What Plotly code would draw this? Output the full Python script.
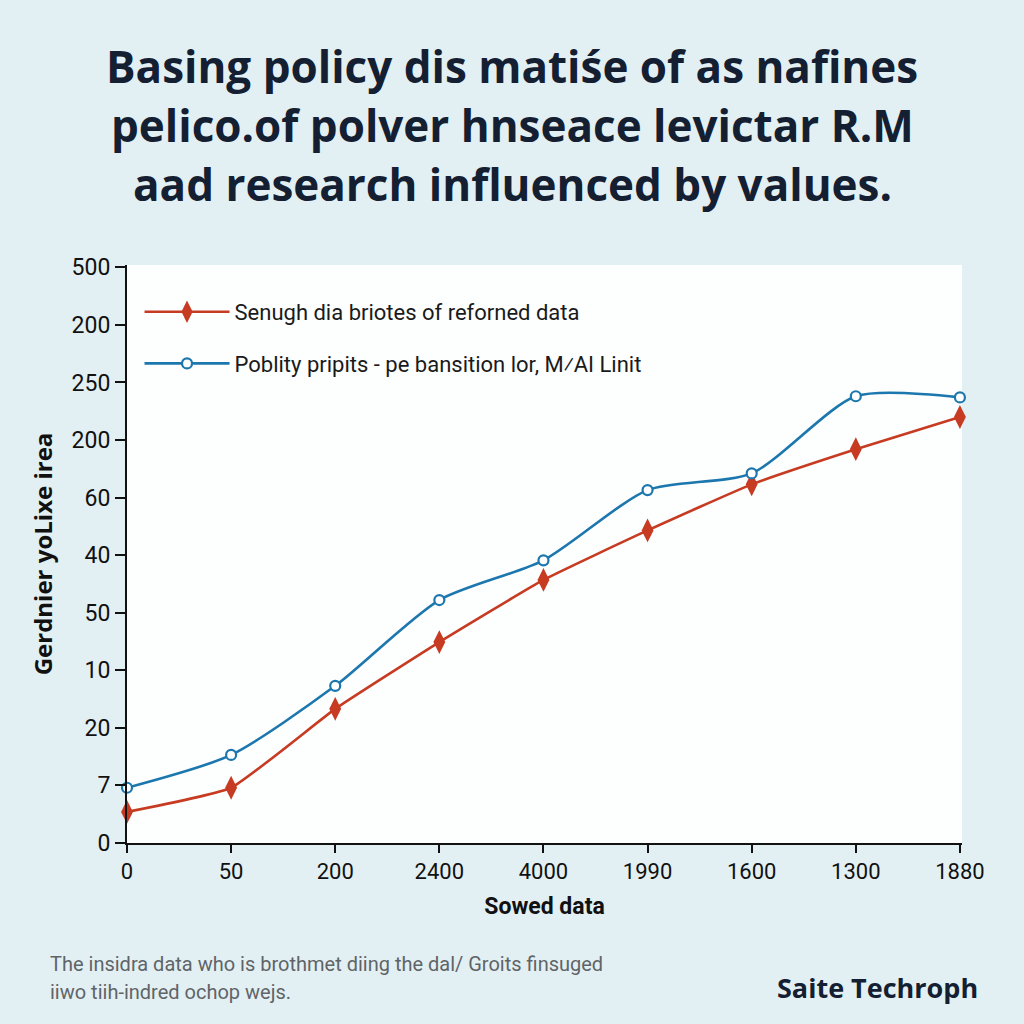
import plotly.graph_objects as go

# ---- data ----
x_labels = ["0", "50", "200", "2400", "4000", "1990", "1600", "1300", "1880"]
y_labels = ["0", "7", "20", "10", "50", "40", "60", "200", "250", "200", "500"]
red_name = "Senugh dia briotes of reforned data"
blue_name = "Poblity pripits - pe bansition lor, M\u2044AI Linit"
red_values = [0.54, 0.96, 2.33, 3.49, 4.57, 5.43, 6.23, 6.84, 7.40]
blue_values = [0.96, 1.53, 2.73, 4.22, 4.91, 6.13, 6.42, 7.76, 7.74]

title_lines = ["Basing policy dis matiśe of as nafines",
               "pelico.of polver hnseace levictar R.M",
               "aad research influenced by values."]
x_title = "Sowed data"
y_title = "Gerdnier yoLixe irea"
foot_lines = ["The insidra data who is brothmet diing the dal/ Groits finsuged",
              "iiwo tiih-indred ochop wejs."]
brand = "Saite Techroph"

RED = "#C63B22"
BLUE = "#1B77AE"
NAVY = "#142032"

xs = list(range(len(x_labels)))

fig = go.Figure()
fig.add_trace(go.Scatter(
    x=xs, y=red_values, name=red_name, mode="lines+markers", legendgroup="a",
    line=dict(color=RED, width=2.6, shape="spline", smoothing=0.4),
    marker=dict(symbol="diamond-tall", size=17, color=RED),
    cliponaxis=False,
))
fig.add_trace(go.Scatter(
    x=xs, y=blue_values, name=blue_name, mode="lines+markers", legendgroup="b",
    line=dict(color=BLUE, width=2.6, shape="spline", smoothing=0.7),
    marker=dict(symbol="circle", size=10, color="white", line=dict(color=BLUE, width=2.2)),
    cliponaxis=False,
))

fig.update_layout(
    width=1024, height=1024,
    margin=dict(l=127, r=62, t=265, b=181),
    paper_bgcolor="#E3F0F3",
    plot_bgcolor="#FDFEFE",
    font=dict(family="Open Sans, Noto Sans, sans-serif", color="#1a1a1a"),
    showlegend=True,
    legend=dict(x=0.015, y=0.955, xanchor="left", yanchor="top",
                bgcolor="rgba(0,0,0,0)", font=dict(size=22, family="Roboto, sans-serif", color="#1a1a1a"),
                itemwidth=85, tracegroupgap=20),
)

fig.update_xaxes(
    range=[0, 8.02], tickmode="array", tickvals=xs, ticktext=x_labels,
    showgrid=False, zeroline=False, showline=True, linecolor="#111", linewidth=2,
    ticks="outside", ticklen=8, tickwidth=2, tickcolor="#111",
    tickfont=dict(size=22, family="Roboto, sans-serif", color="#111"),
    title=dict(text="<b>" + x_title + "</b>", font=dict(size=23, family="Roboto, sans-serif", color="#111"), standoff=14),
)
fig.update_yaxes(
    range=[0, 10.04], tickmode="array", tickvals=list(range(len(y_labels))), ticktext=y_labels,
    showgrid=False, zeroline=False, showline=True, linecolor="#111", linewidth=2,
    ticks="outside", ticklen=10, tickwidth=2, tickcolor="#111",
    tickfont=dict(size=23, family="Roboto, sans-serif", color="#111"),
    title=dict(text="<b>" + y_title + "</b>", font=dict(size=24, family="Open Sans, sans-serif", color="#111"), standoff=12),
)

# title
for i, line in enumerate(title_lines):
    fig.add_annotation(text="<b>" + line + "</b>", xref="paper", yref="paper",
                       x=0.5, xanchor="center", y=(1024 - (66 + i * 59) - 181) / 578, yanchor="middle",
                       xshift=(512 - (127 + 835 / 2)), showarrow=False,
                       font=dict(size=44, family="Open Sans, sans-serif", color=NAVY))

# footnote
for i, line in enumerate(foot_lines):
    fig.add_annotation(text=line, xref="paper", yref="paper",
                       x=(48 - 127) / 835, xanchor="left",
                       y=(1024 - (964 + i * 28) - 181) / 578, yanchor="middle",
                       showarrow=False,
                       font=dict(size=20, family="Roboto, sans-serif", color="#5f6468"))

fig.add_annotation(text="<b>" + brand + "</b>", xref="paper", yref="paper",
                   x=(980 - 127) / 835, xanchor="right",
                   y=(1024 - 987 - 181) / 578, yanchor="middle", showarrow=False,
                   font=dict(size=27, family="Open Sans, sans-serif", color=NAVY))

fig.write_html("out.html")
